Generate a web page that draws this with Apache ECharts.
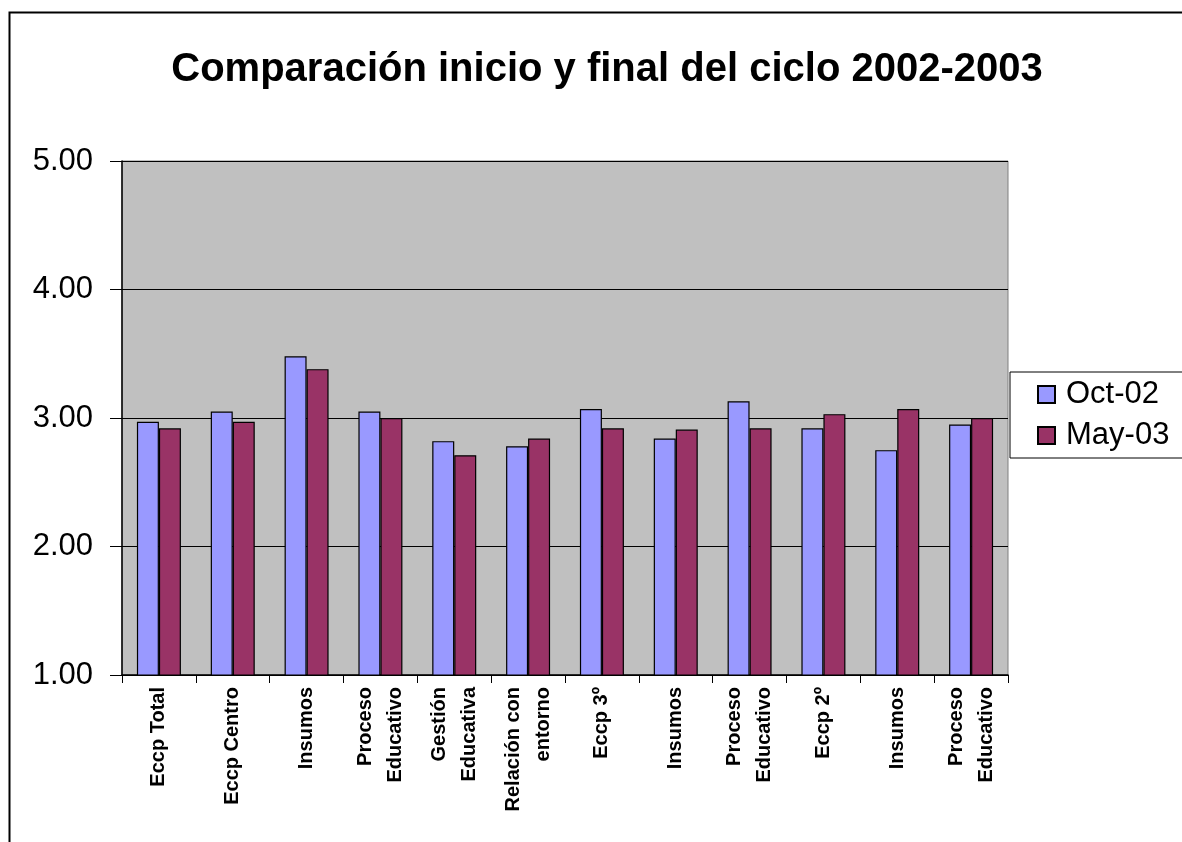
<!DOCTYPE html>
<html>
<head>
<meta charset="utf-8">
<script src="https://cdn.jsdelivr.net/npm/echarts@6/dist/echarts.min.js"></script>
<style>
html,body{margin:0;padding:0;background:#fff;}
#c{width:1182px;height:842px;}
</style>
</head>
<body>
<div id="c"></div>
<script>
var categories = ['Eccp Total','Eccp Centro','Insumos','Proceso\nEducativo','Gestión\nEducativa','Relación con\nentorno','Eccp 3º','Insumos','Proceso\nEducativo','Eccp 2º','Insumos','Proceso\nEducativo'];
var oct02 = [2.97, 3.05, 3.48, 3.05, 2.82, 2.78, 3.07, 2.84, 3.13, 2.92, 2.75, 2.95];
var may03 = [2.92, 2.97, 3.38, 3.00, 2.71, 2.84, 2.92, 2.91, 2.92, 3.03, 3.07, 3.00];
var yTicks = [1, 2, 3, 4, 5];

var chart = echarts.init(document.getElementById('c'));
var font = 'Liberation Sans, Arial, sans-serif';
chart.setOption({
  animation: false,
  backgroundColor: '#fff',
  textStyle: {fontFamily: font},
  title: {
    text: 'Comparación inicio y final del ciclo 2002-2003',
    left: 602, top: 45, textAlign: 'center',
    textStyle: {fontFamily: font, fontWeight: 'bold', fontSize: 40, color: '#000'}
  },
  graphic: [
    {type: 'rect', shape: {x: 9.5, y: 12.5, width: 1200, height: 900}, style: {fill: 'none', stroke: '#000', lineWidth: 2}, z: -1}
  ],
  legend: {
    orient: 'vertical', left: 1010, top: 372,
    backgroundColor: '#fff', borderColor: '#000', borderWidth: 1,
    padding: [7, 30, 7, 27], itemGap: 10, itemWidth: 17, itemHeight: 17,
    textStyle: {fontFamily: font, fontSize: 31, color: '#000', padding: [0, 0, 0, 6]},
    data: [{name: 'Oct-02', icon: 'rect'}, {name: 'May-03', icon: 'rect'}]
  },
  grid: {left: 122, top: 161, right: 174, bottom: 167, show: true, backgroundColor: '#C0C0C0', borderColor: '#808080', borderWidth: 1},
  xAxis: {
    type: 'category', data: categories,
    axisLine: {lineStyle: {color: '#000', width: 1.5}},
    axisTick: {show: true, length: 8, inside: false, lineStyle: {color: '#000'}},
    axisLabel: {rotate: 90, interval: 0, margin: 12, fontFamily: font, fontWeight: 'bold', fontSize: 20, color: '#000', lineHeight: 30}
  },
  yAxis: {
    type: 'value', min: 1, max: 5, interval: 1,
    axisLine: {show: true, lineStyle: {color: '#000', width: 1.5}},
    axisTick: {show: true, length: 12, lineStyle: {color: '#000'}},
    splitLine: {show: true, lineStyle: {color: '#000', width: 1.2}},
    axisLabel: {fontFamily: font, fontSize: 31, color: '#000', margin: 29, formatter: function(v){return v.toFixed(2);}}
  },
  series: [
    {name: 'Oct-02', type: 'bar', data: oct02, barWidth: 22, barGap: '0%',
     itemStyle: {color: '#9999FF', borderColor: '#000', borderWidth: 1.2}},
    {name: 'May-03', type: 'bar', data: may03, barWidth: 22, barGap: '0%',
     itemStyle: {color: '#993366', borderColor: '#000', borderWidth: 1.2}}
  ]
});
</script>
</body>
</html>
